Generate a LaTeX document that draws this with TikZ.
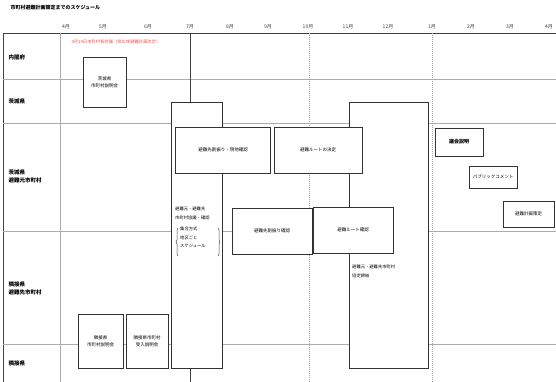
\documentclass[tikz,border=0pt]{standalone}
\usepackage{fontspec}
\setmainfont{Noto Sans CJK JP}
\usetikzlibrary{positioning,decorations.pathreplacing}

\begin{document}
\begin{tikzpicture}[x=1pt,y=-1pt]
\tikzset{
  gridline/.style={draw=gray!65,line width=0.8pt},
  monthline/.style={draw=gray!70,dash pattern=on 1pt off 1pt,line width=0.8pt},
  taskbox/.style={draw=black!80,fill=white,line width=0.7pt,inner sep=1pt,font=\fontsize{4.5}{7}\selectfont,align=center},
  rowlabel/.style={anchor=west,font=\fontsize{5.5}{8}\selectfont\bfseries,align=left},
  monthlabel/.style={font=\fontsize{5}{6}\selectfont,text=black!75},
  note/.style={anchor=north west,font=\fontsize{4.3}{8.5}\selectfont,align=left,inner sep=0pt}
}
\useasboundingbox (0,0) rectangle (556,382);
% title
\node[anchor=west,font=\fontsize{5}{6}\selectfont\bfseries] (n_title) at (7,8) {市町村避難計画策定までのスケジュール};
% frame and rows
\draw[line width=0.9pt,draw=black!75] (3,382) -- (3,33) -- (556,33);
\draw[gridline] (60,33) -- (60,382);
\foreach \yy in {79,123,231,344}
  \draw[gridline] (3,\yy) -- (556,\yy);
\draw[line width=0.8pt,draw=black!75] (190,33) -- (190,382);
\draw[monthline] (309,33) -- (309,382);
\draw[monthline] (432,33) -- (432,382);
% month labels
\foreach \xx/\mm in {66/4月,103/5月,148/6月,190/7月,230/8月,268/9月,308/10月,348/11月,388/12月,432/1月,471/2月,510/3月,549/4月}
  \node[monthlabel] at (\xx,27) {\mm};
\node[anchor=west,font=\fontsize{4.3}{6}\selectfont,text=red!70] (n_kaigi) at (68,42) {4月14日市町村長会議（県広域避難計画改定）};
% row labels
\node[rowlabel] (r_naikaku) at (5,57) {内閣府};
\node[rowlabel] (r_ken) at (5,101) {茨城県};
\node[rowlabel] (r_moto) at (5,176) {茨城県\\避難元市町村};
\node[rowlabel] (r_saki) at (5,288) {隣接県\\避難先市町村};
\node[rowlabel] (r_rinsetsu) at (5,363) {隣接県};
% tall boxes
\node[taskbox,minimum width=51pt,minimum height=266pt] (n_kyogi) at (196.5,235) {};
\node[taskbox,minimum width=79pt,minimum height=266pt] (n_kyotei) at (388.5,235) {};
% tasks
\node[taskbox,minimum width=43pt,minimum height=50pt] (n_setsumei) at (104.5,82) {茨城県\\市町村説明会};
\node[taskbox,minimum width=95pt,minimum height=46pt] (n_wari) at (223,150) {避難先割振り・現地確認};
\node[taskbox,minimum width=88pt,minimum height=46pt] (n_route) at (318,150) {避難ルートの決定};
\node[taskbox,minimum width=48pt,minimum height=28pt,font=\fontsize{5}{7}\selectfont\bfseries] (n_gikai) at (459,142) {議会説明};
\node[taskbox,minimum width=48pt,minimum height=22pt] (n_pub) at (493,177) {パブリックコメント};
\node[taskbox,minimum width=51pt,minimum height=26pt] (n_sakutei) at (528.5,214) {避難計画策定};
\node[taskbox,minimum width=80pt,minimum height=46pt] (n_wari2) at (272,231) {避難先割振り確認};
\node[taskbox,minimum width=80pt,minimum height=46pt] (n_route2) at (353,230) {避難ルート確認};
\node[taskbox,minimum width=45pt,minimum height=54pt] (n_saki1) at (100.5,341) {隣接県\\市町村説明会};
\node[taskbox,minimum width=42pt,minimum height=54pt] (n_saki2) at (147,341) {隣接県市町村\\受入説明会};
% notes in the tall boxes
\node[note] (n_kyogitxt) at (175,207) {避難元・避難先\\市町村協議・確認};
\node[note] (n_hoshiki) at (180,227) {集合方式\\地区ごと\\スケジュール};
\draw[decorate,decoration={brace,amplitude=2pt},line width=0.5pt,draw=black!70] (178,256) -- (178,228);
\draw[decorate,decoration={brace,amplitude=2pt},line width=0.5pt,draw=black!70] (218,228) -- (218,256);
\node[note] (n_kyoteitxt) at (352,265) {避難元・避難先市町村\\協定締結};
\end{tikzpicture}
\end{document}
